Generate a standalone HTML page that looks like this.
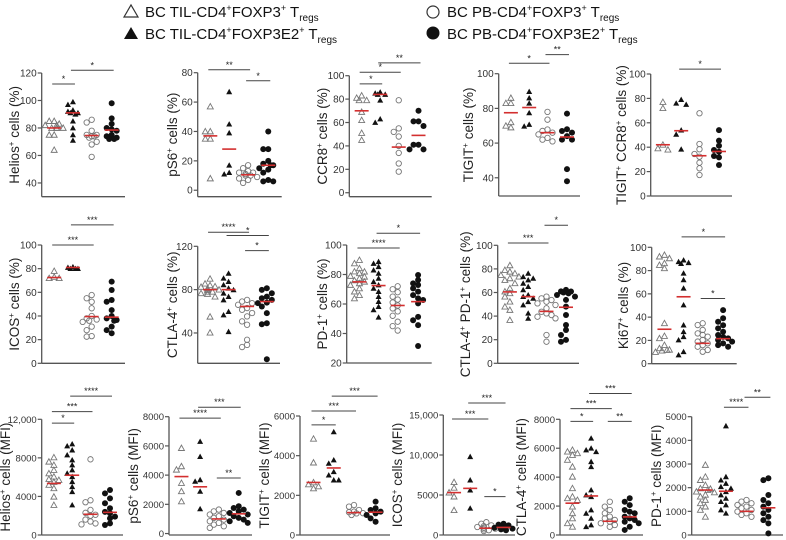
<!DOCTYPE html>
<html><head><meta charset="utf-8"><style>
html,body{margin:0;padding:0;background:#fff;}
svg{display:block;font-family:"Liberation Sans",Arial,sans-serif;}
</style></head><body>
<svg id="fig" width="786" height="540" viewBox="0 0 786 540" xmlns="http://www.w3.org/2000/svg">
<g font-size="15" fill="#111">
  <g>
    <polygon points="124,17 131,5 138,17" fill="none" stroke="#333" stroke-width="1.2"/>
    <text x="145" y="17">BC TIL-CD4<tspan font-size="9" dy="-6">+</tspan><tspan dy="6">FOXP3</tspan><tspan font-size="9" dy="-6">+</tspan><tspan dy="6"> T</tspan><tspan font-size="10" dy="4">regs</tspan></text>
  </g>
  <g>
    <polygon points="124,39 131,27 138,39" fill="#111"/>
    <text x="145" y="39">BC TIL-CD4<tspan font-size="9" dy="-6">+</tspan><tspan dy="6">FOXP3E2</tspan><tspan font-size="9" dy="-6">+</tspan><tspan dy="6"> T</tspan><tspan font-size="10" dy="4">regs</tspan></text>
  </g>
  <g>
    <circle cx="433" cy="12" r="6" fill="none" stroke="#333" stroke-width="1.2"/>
    <text x="447" y="17">BC PB-CD4<tspan font-size="9" dy="-6">+</tspan><tspan dy="6">FOXP3</tspan><tspan font-size="9" dy="-6">+</tspan><tspan dy="6"> T</tspan><tspan font-size="10" dy="4">regs</tspan></text>
  </g>
  <g>
    <circle cx="433" cy="33" r="6.5" fill="#111"/>
    <text x="447" y="39">BC PB-CD4<tspan font-size="9" dy="-6">+</tspan><tspan dy="6">FOXP3E2</tspan><tspan font-size="9" dy="-6">+</tspan><tspan dy="6"> T</tspan><tspan font-size="10" dy="4">regs</tspan></text>
  </g>
</g>
</svg>
<script>
// ---- data arrays ----
const panelNames = ["helios-pct","ps6-pct","ccr8-pct","tigit-pct","tigit-ccr8-pct","icos-pct","ctla4-pct","pd1-pct","ctla4-pd1-pct","ki67-pct","helios-mfi","ps6-mfi","tigit-mfi","icos-mfi","ctla4-mfi","pd1-mfi"];
const yLabelMain = ["Helios","pS6","CCR8","TIGIT","TIGIT","ICOS","CTLA-4","PD-1","CTLA-4","Ki67","Helios","pS6","TIGIT","ICOS","CTLA-4","PD-1"];
const yLabelSecond = ["","","","","CCR8","","","","PD-1","","","","","","",""];
const yLabelUnit = ["(%)","(%)","(%)","(%)","(%)","(%)","(%)","(%)","(%)","(%)","(MFI)","(MFI)","(MFI)","(MFI)","(MFI)","(MFI)"];
const yTicks = [
 [40,60,80,100,120],[0,20,40,60,80],[0,20,40,60,80,100],[40,60,80,100],[0,20,40,60,80,100],
 [0,20,40,60,80,100],[40,80,120],[20,40,60,80,100],[0,20,40,60,80,100],[0,20,40,60,80,100],
 [0,4000,8000,12000],[0,2000,4000,6000,8000],[0,2000,4000,6000],[0,5000,10000,15000],[0,2000,4000,6000,8000],[0,1000,2000,3000,4000,5000]];
const yTickLabels = [
 ["40","60","80","100","120"],["0","20","40","60","80"],["0","20","40","60","80","100"],["40","60","80","100"],["0","20","40","60","80","100"],
 ["0","20","40","60","80","100"],["40","80","120"],["20","40","60","80","100"],["0","20","40","60","80","100"],["0","20","40","60","80","100"],
 ["0","4000","8000","12,000"],["0","2000","4000","6000","8000"],["0","2000","4000","6000"],["0","5000","10,000","15,000"],["0","2000","4000","6000","8000"],["0","1000","2000","3000","4000","5000"]];
const yDomainMin = [30,-4.4,-3.4,29.5,0,0,12,20,0,0,0,-100,0,0,0,0];
const yDomainMax = [120,80,100,100,100,100,120,100,100,100,12000,8000,6000,15000,8000,5000];
// group values: TIL FOXP3, TIL FOXP3E2, PB FOXP3, PB FOXP3E2
const tilFoxp3 = [
 [85,85,83,82,82,80,80,80,80,75,75,64],[57,40,40,35,35,8],[83,81,79,79,69,62,51,45],[86,83,83,72,70,69],[77,72,42,39,38],
 [78,73,72,72],[90,85.5,84,83,82.5,81,80,79.6,78,78,76.6,76,73.5,55,40.3],[89.8,87.5,84.2,82,81.9,80.8,79,78.5,77.4,76,75.1,74,72.9,70.6,68.4,66,63.8],
 [83,79,77.6,76.2,74.8,73.4,72,70.6,67.8,63.6,60.8,59.3,56.5,52.2,48,45.2,36.7],[93.4,92,90.5,86.3,84.8,82,34.7,23.8,21.8,16,13.2,12,11.8,11.2,10],
 [8050,7600,7260,6740,6390,6050,5800,5700,5500,5190,4840,3970,3110],[5850,4600,4370,3460,2890,2200],[4850,3650,2650,2550,2450,2350],[6600,5900,5300,4800,3100],
 [5880,5760,5650,5530,5190,4720,4030,3230,2650,2540,2420,1960,1500,1150,810,570],[2960,2460,2320,2110,1970,1950,1900,1830,1800,1700,1620,1480,1340,1200,1060,770]];
const tilFoxp3E2 = [
 [99,97,93,92,91,91,90,85,80,75,71],[67,45,39,17,12,11],[86,85,84,84,79,63,60],[89.7,86,83,77.4,69.7,70.7],[79,76,75,54,50.5,38.3],
 [81.5,81,80,80,80],[95,90.5,87.4,84.4,81.3,79.8,76.7,73.6,70.5,59.7,56.6,41.2],[88.7,87.5,85.3,83,80.8,77.4,75.1,72.9,70.6,68.4,65,61.6,58.2,56,51],
 [76.2,73.4,72,70.6,67.8,65,62.2,57.9,56.5,55,52.2,49.4,42.4,38.1],[89,87.6,86.8,86,77.7,72,64.8,50.4,33.2,27.5,23.2,20.4,10.3,7.5],
 [9230,9440,8810,8300,7780,7260,6740,6400,6050,5530,5010,4490,3110],[6300,5270,3680,3570,2890,1690],[5200,3780,3610,3190,3020,2770,2770],[9790,6870,5620,3340],
 [6690,6000,5880,5760,5070,4720,3110,2770,2650,1730,1500,1150,690,570],[4610,2460,2320,2180,2040,1970,1830,1690,1550,1410,1270,1060,920]];
const pbFoxp3 = [
 [86,84,78,75,75,74,74,73,70,68,59],[17,15,13,12,12,11,10,10,9,8,7,5],[79,55,52,48,40,34,25,18],[78,73.5,67.8,67,66,65,62,61,63],[67.8,42.6,38.3,34.4,32.2,27.3,22.7,17.2],
 [57.7,55,52,46.5,40,38,37,36,35,31,28,23,22.5],[70.5,69,67.5,66,63,61.4,58.4,55.3,50.7,47.6,33.7,29,27],[72,70,68,65,63,61,59,57,55,52,48,45,42],
 [56.5,55,53.6,52.2,50.8,49.4,46.6,43.7,42.3,40.9,39.5,38.1,24,18.3],[34.7,33.2,29,26,24.7,23.2,20.4,19,17.5,16,14.6,11.8,10.3],
 [7850,3600,3400,2600,2300,2100,2000,1600,1400,1200,1100],[1640,1520,1410,1300,1180,1070,950,840,730,610,500,390],[1510,1430,1260,1180,1150,1100,1090,1010],[1600,1400,1200,1100,1000,900,800,700,600,500],
 [2300,1960,1730,1500,1270,1150,1040,920,810,690,570],[1480,1410,1340,1270,1200,1130,1060,990,920,850,770]];
const pbFoxp3E2 = [
 [98,87,83,80,79,78,75,74,73,72,72],[40,28,28,20,18,17,17,15,14,12,7,6,6],[70,61,61,57,41,41,37,37],[77,68,67,66,64,62,62,45,38],[54,45.4,41.2,37.7,36.3,32.8,31.7,25.4],
 [69,62,53.5,52,45,40,38,36.6,36,31,28,25.4],[81.3,79.8,76.7,73.6,72,70.5,68,67.5,64.4,58.3,49,48,15.7],[79.7,76.3,74,72.9,70.6,68.4,66,63.8,62.7,60.4,51.3,49,45.7,31.5],
 [62.2,61,60.8,60,59.3,57.9,56.5,53.7,48,40.9,32.5,28.2,24,19.8,18.3],[46,39,36,33,30.4,27.5,24.7,23,21.8,20.4,19,17.5,16,14.6],
 [4670,4320,3800,3290,2770,2400,2250,1900,1730,1210,1040],[2780,1870,1750,1640,1520,1410,1300,1180,1070,950,840,730],[1680,1350,1260,1180,1090,1010,840,670],[1400,1300,1200,1100,1000,950,900,850,800,700,600],
 [2540,2300,2070,1730,1610,1500,1270,1150,1040,920,810,570,350],[2400,2320,1690,1480,1340,1200,1060,920,770,630,490,70]];
const medians = [
 [80,91,74.5,78.5],[37,28,10.5,17],[70,84,39,49],[77.5,80.5,66,63.5],[42,53.5,33,36.5],
 [72.5,81,39.5,39],[80,80,64.5,69],[75,72.5,59,61.6],[60.5,56.5,44,47.5],[29.6,57.5,17.5,21.5],
 [5350,6200,2150,2350],[3900,3200,1000,1350],[2650,3380,1130,1150],[5300,5830,850,950],[2200,2700,950,1250],[1900,1850,1000,1150]];
// significance: panel, groupA, groupB, y-value, label
const sigPanel = [0,0, 1,1, 2,2,2, 3,3, 4, 5,5, 6,6,6, 7,7, 8,8, 9,9, 10,10,10, 11,11,11, 12,12,12, 13,13,13, 14,14,14,14, 15,15];
const sigA =     [0,1, 0,2, 0,0,1, 0,2, 1, 0,1, 0,2,1, 0,1, 0,2, 2,1, 0,0,1, 0,1,2, 0,0,1, 0,1,2, 0,0,1,2, 1,2];
const sigB =     [1,3, 2,3, 1,2,3, 2,3, 3, 2,3, 2,3,3, 2,3, 2,3, 3,3, 1,2,3, 2,3,3, 1,2,3, 2,3,3, 1,2,3,3, 2,3];
const sigY =     [112,122, 82,74.5, 93,103,111, 106,111, 104, 100,117, 133,116,130, 98,108, 102,117, 56,109, 11600,12800,14400, 7900,8650,3800, 5550,6250,7000, 14500,16500,4800, 7860,8740,9780,7860, 5400,5820];
const sigLabel = ["*","*","**","*","*","*","**","*","**","*","***","***","****","*","*","****","*","***","*","*","*","*","***","****","****","***","**","*","***","***","***","***","*","*","***","***","**","****","**"];

// ---- layout (not data) ----
const axX = [41.7,197.7,349.3,498.7,650.7, 41.7,197.7,346.7,497.7,651.7, 41.7,169,300,443.3,560,691.7];
const axXEnd = [125,281.7,431.7,580,732, 125,280,431.7,579,736.7, 123,252,390,515,643,783];
const axYTop = [73,72.7,75.7,73.7,74, 245,246.3,245,245.3,247.3, 419.3,416.7,416,415,419.3,416.7];
const axYBottom = [196.7,196.7,196.7,196,196, 363.3,363.3,363,363.3,363.7, 535,535,535,535,535,535];
const labelX = [14,172,322,468,621, 14,172,322,465,623, 5,133,264,397,521,656];
const groupFrac = [0.15,0.375,0.6,0.84];

const svg = document.getElementById('fig');
const NS = 'http://www.w3.org/2000/svg';
function mk(tag, attrs, parent){ const e=document.createElementNS(NS,tag); for(const k in attrs) e.setAttribute(k,attrs[k]); parent.appendChild(e); return e; }

panelNames.forEach((pname, p) => {
  const g = mk('g', {}, svg);
  
  
  const x0 = axX[p], x1 = axXEnd[p];
  const yTop = axYTop[p], yBot = axYBottom[p];
  const dMin = yDomainMin[p];
  const yMaxTick = yTicks[p][yTicks[p].length-1];
  const yScale = v => yBot - (v - dMin) / (yMaxTick - dMin) * (yBot - yTop);
  const xScale = gi => x0 + groupFrac[gi] * (x1 - x0);
  const yAxis = mk('line', {x1:x0, y1:yScale(yMaxTick), x2:x0, y2:yBot, stroke:'#555', 'stroke-width':1.3}, g);
  
  
  const xAxis = mk('line', {x1:x0, y1:yBot, x2:x1, y2:yBot, stroke:'#555', 'stroke-width':1.3}, g);
  
  
  const tickFont = p >= 10 ? 9.5 : 10;
  yTicks[p].forEach((t, i) => {
    const y = yScale(t);
    const tk = mk('line', {x1:x0-4, y1:y, x2:x0, y2:y, stroke:'#555', 'stroke-width':1.2}, g);
    
    
    const tl = mk('text', {x:x0-5, y:y+3.5, 'text-anchor':'end', 'font-size':tickFont, fill:'#333'}, g);
    
    
    tl.textContent = yTickLabels[p][i];
  });
  const cy = (yTop + yBot) / 2;
  const lab = mk('text', {x:labelX[p], y:cy, transform:`rotate(-90 ${labelX[p]} ${cy})`, 'text-anchor':'middle', 'font-size':13.5, fill:'#222', dy:5}, g);
  
  
  const addSup = (parent) => { const s = mk('tspan', {'font-size':8, dy:-5}, parent); s.textContent = '+'; const b = mk('tspan', {dy:5}, parent); return b; };
  let t1 = mk('tspan', {}, lab); t1.textContent = yLabelMain[p];
  let b = addSup(lab);
  if (yLabelSecond[p]) { b.textContent = ' ' + yLabelSecond[p]; b = addSup(lab); }
  b.textContent = ' cells ' + yLabelUnit[p];
  const groups = [tilFoxp3[p], tilFoxp3E2[p], pbFoxp3[p], pbFoxp3E2[p]];
  groups.forEach((vals, gi) => {
    const cx = xScale(gi);
    const placed = [];
    const sorted = vals.slice().sort((a,b)=>b-a);
    sorted.forEach(v => {
      const y = yScale(v);
      const offs = [0,-5,5,-9,9];
      let off = null;
      for (const o of offs) { if (placed.every(q => Math.hypot(q[0]-o, q[1]-y) >= 5)) { off = o; break; } }
      if (off === null) off = (placed.length % 2 ? -2.5 : 2.5);
      placed.push([off, y]);
      const x = cx + off;
      let m;
      if (gi < 2) {
        m = mk('polygon', {points:`${x-3},${y+2.4} ${x},${y-3} ${x+3},${y+2.4}`}, g);
        if (gi === 0) { m.setAttribute('fill','none'); m.setAttribute('stroke','#777'); m.setAttribute('stroke-width','0.9'); }
        else m.setAttribute('fill','#111');
      } else {
        m = mk('circle', {cx:x, cy:y, r: gi===2 ? 2.7 : 3}, g);
        if (gi === 2) { m.setAttribute('fill','none'); m.setAttribute('stroke','#777'); m.setAttribute('stroke-width','0.9'); }
        else m.setAttribute('fill','#111');
      }
      
      
    });
    const my = yScale(medians[p][gi]);
    const ml = mk('line', {x1:cx-7, y1:my, x2:cx+7, y2:my, stroke:'#d32f2f', 'stroke-width':1.6}, g);
    
    
  });
  sigPanel.forEach((sp, i) => {
    if (sp !== p) return;
    const y = yScale(sigY[i]);
    const xa = xScale(sigA[i]) - 2, xb = xScale(sigB[i]) + 2;
    const sl = mk('line', {x1:xa, y1:y, x2:xb, y2:y, stroke:'#444', 'stroke-width':1}, g);
    
    
    const st = mk('text', {x:(xa+xb)/2, y:y-2, 'text-anchor':'middle', 'font-size':9, fill:'#222'}, g);
    
    
    st.textContent = sigLabel[i];
  });
});
</script>
</body></html>
